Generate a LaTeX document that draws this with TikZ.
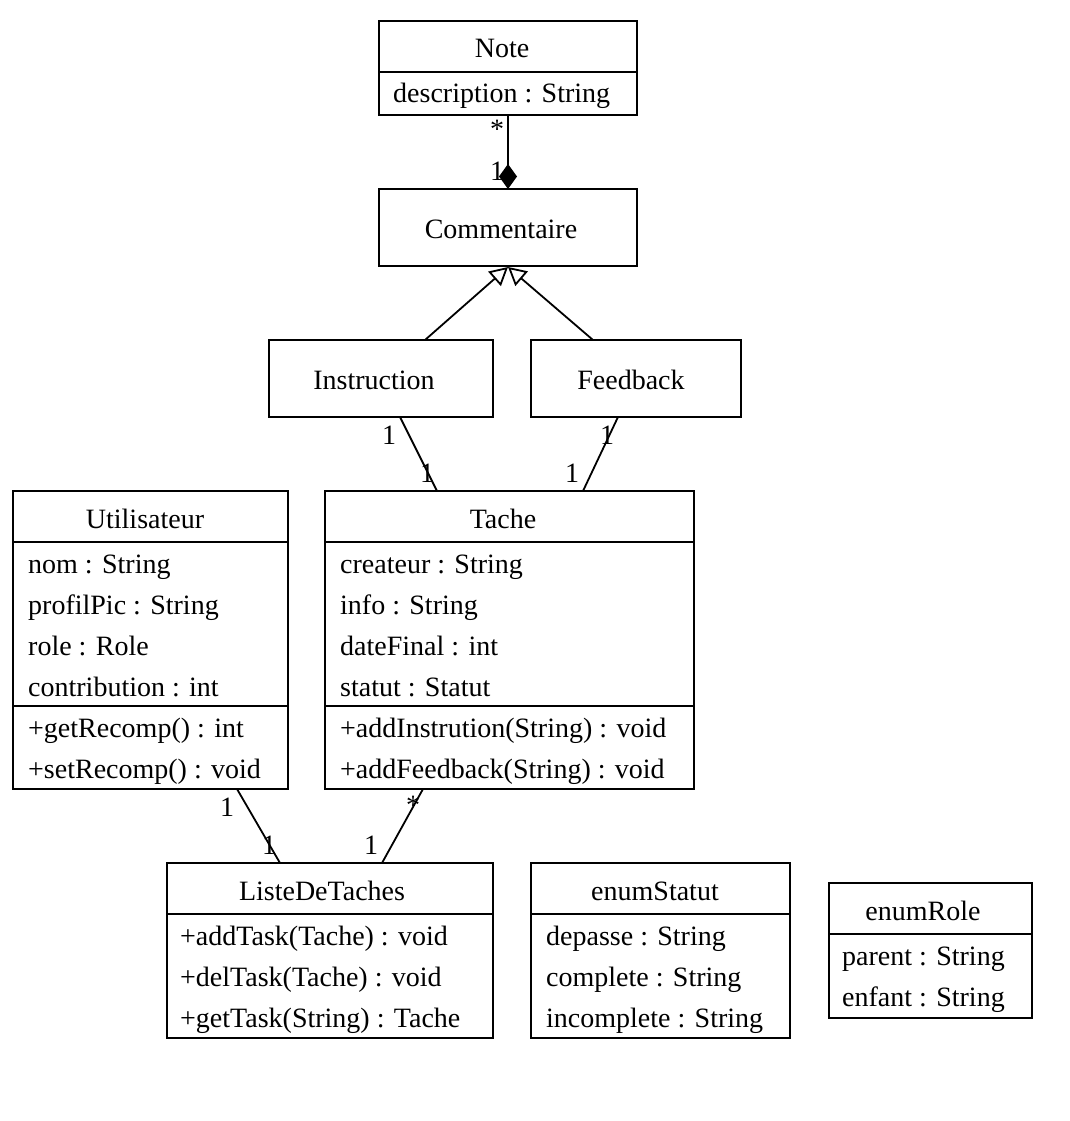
\documentclass[tikz,border=0pt]{standalone}
\usepackage{fontspec}
\setmainfont{Liberation Serif}
\usetikzlibrary{arrows.meta,calc}
\begin{document}
\begin{tikzpicture}[x=1pt,y=-1pt,
  box/.style={draw, line width=1.8pt, inner sep=0pt, outer sep=0pt, anchor=north west},
  txt/.style={anchor=base west, inner sep=0pt, font=\fontsize{28}{34}\selectfont},
  ttl/.style={anchor=base, inner sep=0pt, font=\fontsize{28}{34}\selectfont},
  mult/.style={inner sep=0pt, font=\fontsize{28}{34}\selectfont},
  link/.style={line width=1.8pt},
  sep/.style={line width=1.8pt},
]
\useasboundingbox (0,0) rectangle (1069,1121);

% ---------- class boxes ----------
\node[box, minimum width=258pt, minimum height=94pt]  (note)  at (379,21)  {};
\node[box, minimum width=258pt, minimum height=77pt]  (comm)  at (379,189) {};
\node[box, minimum width=224pt, minimum height=77pt]  (instr) at (269,340) {};
\node[box, minimum width=210pt, minimum height=77pt]  (feed)  at (531,340) {};
\node[box, minimum width=275pt, minimum height=298pt] (user)  at (13,491)  {};
\node[box, minimum width=369pt, minimum height=298pt] (tache) at (325,491) {};
\node[box, minimum width=326pt, minimum height=175pt] (liste) at (167,863) {};
\node[box, minimum width=259pt, minimum height=175pt] (statut) at (531,863) {};
\node[box, minimum width=203pt, minimum height=135pt] (role)  at (829,883) {};

% ---------- compartment separators ----------
\draw[sep] (note.west |- 0,72)    -- (note.east |- 0,72);
\draw[sep] (user.west |- 0,542)   -- (user.east |- 0,542);
\draw[sep] (user.west |- 0,706)   -- (user.east |- 0,706);
\draw[sep] (tache.west |- 0,542)  -- (tache.east |- 0,542);
\draw[sep] (tache.west |- 0,706)  -- (tache.east |- 0,706);
\draw[sep] (liste.west |- 0,914)  -- (liste.east |- 0,914);
\draw[sep] (statut.west |- 0,914) -- (statut.east |- 0,914);
\draw[sep] (role.west |- 0,934)   -- (role.east |- 0,934);

% ---------- titles ----------
\node[ttl] (tnote)   at (502,58)  {Note};
\node[ttl] (tcomm)   at (501,238) {Commentaire};
\node[ttl] (tinstr)  at (374,389) {Instruction};
\node[ttl] (tfeed)   at (631,389) {Feedback};
\node[ttl] (tuser)   at (145,528) {Utilisateur};
\node[ttl] (ttache)  at (503,528) {Tache};
\node[ttl] (tliste)  at (322,900) {ListeDeTaches};
\node[ttl] (tstatut) at (655,900) {enumStatut};
\node[ttl] (trole)   at (923,920) {enumRole};

% ---------- members ----------
\node[txt] (n1) at (393,103) {description : String};

\node[txt] (u1) at (28,573) {nom : String};
\node[txt] (u2) at (28,614) {profilPic : String};
\node[txt] (u3) at (28,655) {role : Role};
\node[txt] (u4) at (28,696) {contribution : int};
\node[txt] (u5) at (28,737) {+getRecomp() : int};
\node[txt] (u6) at (28,778) {+setRecomp() : void};

\node[txt] (c1) at (340,573) {createur : String};
\node[txt] (c2) at (340,614) {info : String};
\node[txt] (c3) at (340,655) {dateFinal : int};
\node[txt] (c4) at (340,696) {statut : Statut};
\node[txt] (c5) at (340,737) {+addInstrution(String) : void};
\node[txt] (c6) at (340,778) {+addFeedback(String) : void};

\node[txt] (l1) at (180,945)  {+addTask(Tache) : void};
\node[txt] (l2) at (180,986)  {+delTask(Tache) : void};
\node[txt] (l3) at (180,1027) {+getTask(String) : Tache};

\node[txt] (s1) at (546,945)  {depasse : String};
\node[txt] (s2) at (546,986)  {complete : String};
\node[txt] (s3) at (546,1027) {incomplete : String};

\node[txt] (r1) at (842,965)  {parent : String};
\node[txt] (r2) at (842,1006) {enfant : String};

% ---------- composition Note -- Commentaire ----------
\draw[link, {Diamond[length=25pt,width=18pt]}-]
  ($(comm.north west)+(129,0)$) -- ($(note.south west)+(129,0)$);
\node[mult] (mn1) at (497,129) {*};
\node[mult] (mn2) at (497,171) {1};

% ---------- generalisations ----------
\draw[link, -{Triangle[open,length=18pt,width=19pt]}]
  ($(instr.north west)+(156,0)$) -- ($(comm.south west)+(129,1)$);
\draw[link, -{Triangle[open,length=18pt,width=19pt]}]
  ($(feed.north west)+(62,0)$) -- ($(comm.south west)+(129,1)$);

% ---------- associations ----------
\draw[link] ($(instr.south west)+(131,0)$) -- ($(tache.north west)+(112,0)$);
\node[mult] (mi1) at (389,435) {1};
\node[mult] (mi2) at (427,473) {1};

\draw[link] ($(feed.south west)+(87,0)$) -- ($(tache.north west)+(258,0)$);
\node[mult] (mf1) at (607,435) {1};
\node[mult] (mf2) at (572,473) {1};

\draw[link] ($(user.south west)+(224,0)$) -- ($(liste.north west)+(113,0)$);
\node[mult] (mu1) at (227,807) {1};
\node[mult] (mu2) at (269,845) {1};

\draw[link] ($(tache.south west)+(98,0)$) -- ($(liste.north west)+(215,0)$);
\node[mult] (mt1) at (413,805) {*};
\node[mult] (mt2) at (371,845) {1};
\end{tikzpicture}
\end{document}
